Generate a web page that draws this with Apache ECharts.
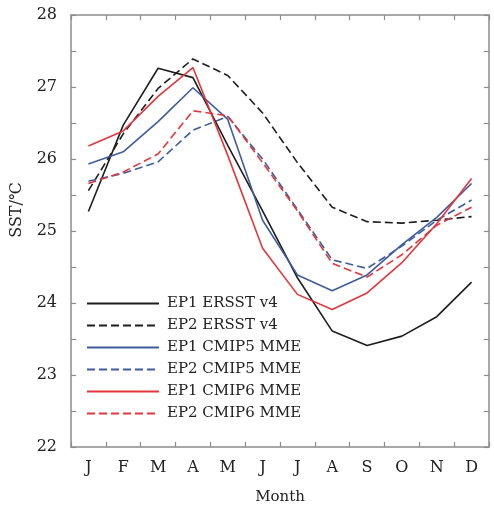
<!DOCTYPE html>
<html><head><meta charset="utf-8">
<script src="https://cdn.jsdelivr.net/npm/echarts@6/dist/echarts.min.js"></script>
<style>html,body{margin:0;padding:0;background:#fff}#c{width:494px;height:511px}</style>
</head><body><div id="c"></div>
<script>
const months = ['J','F','M','A','M','J','J','A','S','O','N','D'];
const ep1Ersst  = [25.27,26.47,27.26,27.13,26.19,25.28,24.35,23.61,23.41,23.54,23.81,24.29];
const ep2Ersst  = [25.56,26.35,26.98,27.39,27.16,26.64,25.95,25.33,25.13,25.11,25.15,25.20];
const ep1Cmip5  = [25.93,26.10,26.52,26.99,26.55,25.15,24.39,24.17,24.39,24.81,25.19,25.66];
const ep2Cmip5  = [25.69,25.80,25.96,26.40,26.59,26.00,25.30,24.60,24.48,24.79,25.15,25.43];
const ep1Cmip6  = [26.18,26.39,26.87,27.27,26.05,24.76,24.12,23.91,24.14,24.56,25.10,25.73];
const ep2Cmip6  = [25.66,25.82,26.07,26.67,26.60,25.95,25.28,24.55,24.36,24.67,25.08,25.33];
const yTicks = [22,23,24,25,26,27,28];

const BLACK='#1e1e1e', BLUE='#3d5d9c', RED='#e5353c';
const serif='"DejaVu Serif","Liberation Serif",serif';
function mk(name, data, color, dashed){
  return {name, type:'line', data, showSymbol:false, symbol:'none',
    lineStyle:{color, width:1.6, type: dashed?[8,4]:'solid'}, itemStyle:{color}, xAxisIndex:0, yAxisIndex:0};
}
const chart = echarts.init(document.getElementById('c'), null, {renderer:'canvas'});
const axisLine = {show:true, lineStyle:{color:'#8c8c8c', width:1.5}};
const tick = {show:true, inside:true, length:5, lineStyle:{color:'#8c8c8c', width:1.2}};
chart.setOption({
  animation:false,
  grid:{left:71, right:5, top:15, bottom:64, containLabel:false},
  graphic:[{type:'text', x:17, y:210, rotation:Math.PI/2,
    style:{text:'SST/℃', fontFamily:serif, fontSize:16, fill:'#222', align:'center', verticalAlign:'middle'}}],
  legend:{orient:'vertical', left:86, top:296, padding:0, itemWidth:72, itemHeight:14, itemGap:7.0,
    itemStyle:{opacity:0},
    textStyle:{fontFamily:serif, fontSize:15, color:'#222', padding:[0,0,0,3]},
    data:['EP1 ERSST v4','EP2 ERSST v4','EP1 CMIP5 MME','EP2 CMIP5 MME','EP1 CMIP6 MME','EP2 CMIP6 MME']},
  xAxis:[
    {type:'category', data:months, boundaryGap:true, position:'bottom',
     name:'Month', nameLocation:'middle', nameGap:43,
     nameTextStyle:{fontFamily:serif, fontSize:15, color:'#222'},
     axisLine, axisTick:Object.assign({}, tick, {alignWithLabel:false}),
     axisLabel:{fontFamily:serif, fontSize:16, color:'#222', margin:13}, splitLine:{show:false}},
    {type:'category', data:months, boundaryGap:true, position:'top',
     axisLine, axisTick:tick, axisLabel:{show:false}, splitLine:{show:false}}
  ],
  yAxis:[
    {type:'value', min:22, max:28, interval:0.5, position:'left',
     axisLine, axisTick:tick,
     axisLabel:{fontFamily:serif, fontSize:16, color:'#222', margin:14,
       formatter:v=> yTicks.includes(v) ? String(v) : ''},
     splitLine:{show:false}},
    {type:'value', min:22, max:28, interval:0.5, position:'right',
     axisLine, axisTick:tick, axisLabel:{show:false}, splitLine:{show:false}}
  ],
  series:[
    mk('EP1 ERSST v4', ep1Ersst, BLACK, false),
    mk('EP2 ERSST v4', ep2Ersst, BLACK, true),
    mk('EP1 CMIP5 MME', ep1Cmip5, BLUE, false),
    mk('EP2 CMIP5 MME', ep2Cmip5, BLUE, true),
    mk('EP1 CMIP6 MME', ep1Cmip6, RED, false),
    mk('EP2 CMIP6 MME', ep2Cmip6, RED, true)
  ]
});
</script></body></html>
